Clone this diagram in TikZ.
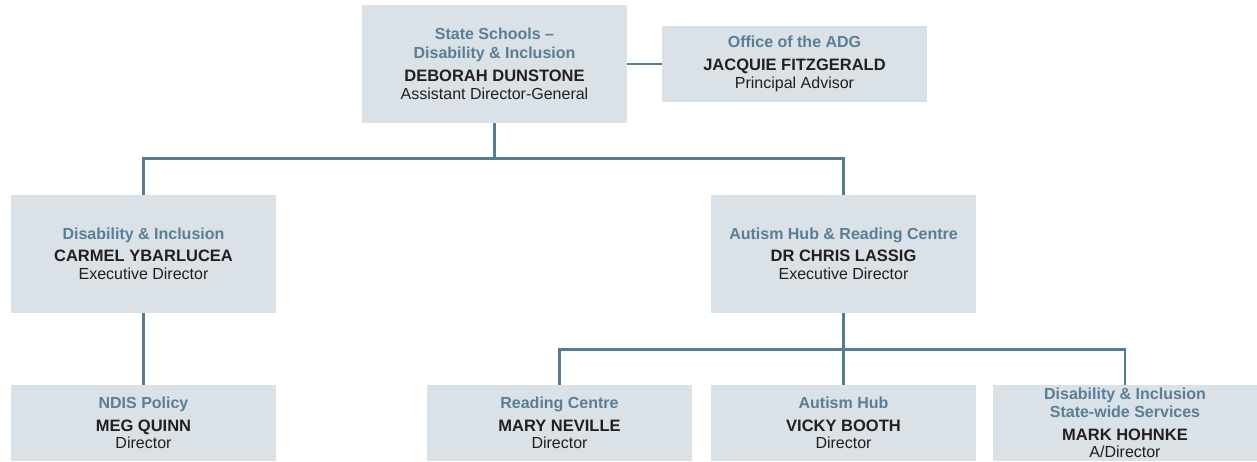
\documentclass[tikz,border=0pt]{standalone}
\usepackage{fontspec}
\setmainfont{Liberation Sans}
\usetikzlibrary{positioning}

\definecolor{boxfill}{HTML}{DAE1E7}
\definecolor{linkline}{HTML}{587B91}
\definecolor{unithead}{HTML}{5A7E95}
\definecolor{nameink}{HTML}{231F20}

\newcommand{\orgunit}[1]{{\bfseries\color{unithead}#1}}
\newcommand{\orgname}[1]{{\fontsize{16.5}{19}\selectfont\bfseries\color{nameink}#1}}
\newcommand{\orgrole}[1]{{\color{nameink}#1}}

\begin{document}
\begin{tikzpicture}[x=1pt, y=-1pt,
    orgbox/.style={fill=boxfill, draw=none, inner sep=0pt, align=center,
      minimum width=265pt, font=\fontsize{16}{19}\selectfont},
    tallbox/.style={orgbox, minimum height=118pt},
    flatbox/.style={orgbox, minimum height=76pt},
    link/.style={draw=linkline, line width=2.6pt}]

  %% ════ fixed canvas ════
  \path[use as bounding box] (0,0) rectangle (1257,461);

  %% ════ level 1 ════
  \node[tallbox] (adg) at (494.5,64) {\orgunit{State Schools –}\\\orgunit{Disability \& Inclusion}\\[4pt]\orgname{DEBORAH DUNSTONE}\\[-1pt]\orgrole{Assistant Director-General}};
  \node[flatbox] (office) at (794.5,64) {\orgunit{Office of the ADG}\\[3.5pt]\orgname{JACQUIE FITZGERALD}\\[-1pt]\orgrole{Principal Advisor}};

  %% ════ level 2 ════
  \node[tallbox] (dni) at (143.5,254) {\orgunit{Disability \& Inclusion}\\[3.5pt]\orgname{CARMEL YBARLUCEA}\\[-1pt]\orgrole{Executive Director}};
  \node[tallbox] (ahrc) at (843.5,254) {\orgunit{Autism Hub \& Reading Centre}\\[3.5pt]\orgname{DR CHRIS LASSIG}\\[-1pt]\orgrole{Executive Director}};

  %% ════ level 3 ════
  \node[flatbox] (ndis) at (143.5,423) {\orgunit{NDIS Policy}\\[3.5pt]\orgname{MEG QUINN}\\[-1.5pt]\orgrole{Director}};
  \node[flatbox] (reading) at (559.5,423) {\orgunit{Reading Centre}\\[3.5pt]\orgname{MARY NEVILLE}\\[-1.5pt]\orgrole{Director}};
  \node[flatbox] (autism) at (843.5,423) {\orgunit{Autism Hub}\\[3.5pt]\orgname{VICKY BOOTH}\\[-1.5pt]\orgrole{Director}};
  \node[flatbox] (statewide) at (1125,423) {\orgunit{Disability \& Inclusion}\\[-1.5pt]\orgunit{State-wide Services}\\[4pt]\orgname{MARK HOHNKE}\\[-2pt]\orgrole{A/Director}};

  %% ════ connectors ════
  \coordinate (split1) at ([yshift=-35.5pt]adg.south);
  \coordinate (split2) at ([yshift=-36pt]ahrc.south);
  \draw[link] (adg.east) -- (office.west);
  \draw[link] (adg.south) -- (split1);
  \draw[link] (dni.north) |- (split1) -| (ahrc.north);
  \draw[link] (dni.south) -- (ndis.north);
  \draw[link] (ahrc.south) -- (split2) -- (autism.north);
  \draw[link] (reading.north) |- (split2) -| (statewide.north);
\end{tikzpicture}
\end{document}
